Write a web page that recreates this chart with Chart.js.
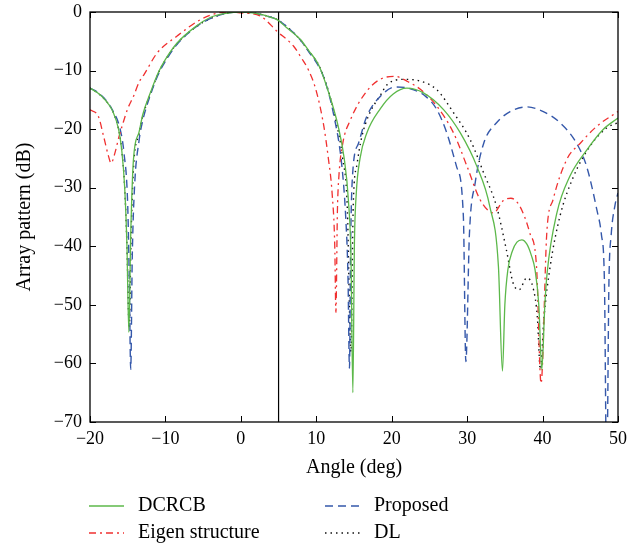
<!DOCTYPE html>
<html>
<head>
<meta charset="utf-8">
<script src="https://cdn.jsdelivr.net/npm/chart.js@4.4.0/dist/chart.umd.min.js"></script>
<style>
  html, body { margin: 0; padding: 0; background: #fff; }
  #wrap { width: 643px; height: 546px; }
</style>
</head>
<body>
<div id="wrap"><canvas id="pattern"></canvas></div>
<script>
// angles (deg) and array pattern (dB)
var dcrcbAngle = [-20, -19, -18, -17, -16.2, -15.8, -15.4, -15.1, -14.85, -14.6, -14.24, -13.5, -13, -12, -11, -10, -8.45, -6, -4, -2, 0, 2, 4, 4.8, 6, 7.9, 9, 10.3, 11.5, 12.9, 13.7, 14.25, 14.6, 14.85, 15.05, 15.3, 15.8, 16.7, 18.5, 20.2, 22, 24.2, 26.9, 29.1, 31.3, 33, 34.15, 34.68, 35, 35.4, 36, 36.6, 37.25, 37.9, 38.5, 39, 39.5, 39.9, 40.3, 40.6, 41.9, 43.6, 45.9, 48, 50];
var dcrcbDb = [-13, -13.8, -15, -16.9, -20.1, -23.5, -30, -40, -54.7, -38, -25.2, -20.5, -17.5, -13.8, -10.5, -8.1, -5.3, -2.5, -0.9, -0.25, 0, -0.25, -0.9, -1.3, -2.6, -4.7, -6.6, -9, -13.2, -19.5, -25, -32, -42, -65, -40, -31, -25, -20.65, -16.5, -14, -13, -13.8, -16.7, -20.65, -26.4, -33.2, -43.5, -61.3, -50, -44, -40.8, -39.3, -38.9, -39.6, -41.5, -44, -50, -61.1, -50, -44.6, -34.3, -28.1, -23.5, -20.1, -18.1];

var eigenAngle = [-20, -18.9, -18.2, -17.55, -17.2, -16.7, -16.2, -15.7, -15, -14.2, -13.5, -12.8, -11.1, -8.45, -5.36, -3.15, -1.5, 0, 2.58, 4.8, 7, 8, 9, 10, 11, 11.6, 12.1, 12.45, 12.6, 12.8, 13, 13.5, 14.5, 16.7, 18.9, 20.5, 22, 23.8, 26, 28.2, 30, 31.7, 33.5, 34.8, 35.8, 37, 38.3, 39.2, 39.8, 40.56, 41.4, 43.2, 45, 47.2, 50];
var eigenDb = [-16.7, -17.8, -21.2, -24.6, -25.8, -24.1, -21.5, -19.3, -16.5, -14.3, -12, -10.6, -7, -4.1, -1.3, -0.2, 0, -0.15, -0.7, -3.3, -5.85, -7.8, -10, -13.5, -19.5, -25, -31, -40, -51.3, -34, -28, -22.5, -18.5, -13.5, -11.25, -11, -11.8, -13.2, -16.1, -20.65, -26.4, -32, -34.3, -32.2, -31.8, -33.2, -37.7, -43.5, -63.4, -37.7, -32, -25.2, -22.4, -19.5, -17];

var proposedAngle = [-20, -19, -18, -17, -16, -15.5, -15, -14.8, -14.6, -14.4, -14.1, -13.5, -13, -12, -11, -10, -8.45, -6, -4, -2, 0, 2, 4, 4.8, 6, 7.9, 9, 10, 11, 12.3, 13.4, 13.9, 14.2, 14.4, 14.55, 14.8, 15.6, 16.7, 18.5, 20.5, 22.2, 24.5, 26, 27.3, 28.6, 29.5, 29.83, 30.3, 31.06, 32.2, 33.9, 35.7, 37.9, 40.1, 42.3, 44.5, 45.85, 47.2, 47.8, 48.2, 48.5, 48.8, 49.1, 49.6, 50];
var proposedDb = [-13, -13.7, -14.9, -16.8, -20, -24, -33, -45, -61, -42, -30, -22, -18.5, -14.2, -10.8, -8.4, -5.5, -2.6, -1.1, -0.25, 0, -0.25, -0.9, -1.3, -2.4, -4.8, -6.8, -8.6, -11.2, -17.5, -26.4, -35, -45, -60.8, -40, -28, -22.4, -17.8, -14.4, -12.8, -13, -14.4, -16.7, -20.65, -26.4, -34.9, -59.7, -38, -29.2, -22.4, -18.9, -17, -16.2, -17, -18.9, -22.4, -26.4, -33.8, -38, -46, -80, -46, -38, -33, -30.9];

var dlAngle = [-20, -19, -18, -17, -16.2, -15.8, -15.4, -15.1, -14.8, -14.55, -14.2, -13.5, -13, -12, -11, -10, -8.45, -6, -4, -2, 0, 2, 4, 4.8, 6, 7.9, 9, 10.3, 11.5, 12.5, 13.5, 14.1, 14.6, 14.9, 15.4, 16, 17, 18.5, 19.4, 21.6, 23.8, 26, 28.2, 30.4, 32.2, 33.9, 35.2, 36.1, 36.9, 37.9, 38.8, 39.3, 39.7, 40.2, 41, 42.3, 44.1, 46.3, 48.5, 50];
var dlDb = [-13, -13.8, -15, -16.9, -20.1, -23.5, -30, -40, -54, -38, -26, -20.8, -17.8, -14, -10.6, -8.2, -5.4, -2.6, -1.1, -0.25, 0, -0.25, -0.9, -1.3, -2.4, -4.8, -6.7, -9, -13, -18, -25, -33, -58, -33, -26, -21.5, -17.5, -14.2, -12.4, -11.5, -11.8, -13.3, -17.2, -21.8, -27.5, -33.2, -40.6, -46.3, -47.4, -45.4, -47.4, -52, -61, -52, -43.5, -34.9, -28.1, -22.9, -19.8, -18.9];

// look direction marker
var markerAngle = [5, 5];
var markerDb = [0, -70];

var xTicks = { min: -20, max: 50, step: 10 };
var yTicks = { min: -70, max: 0, step: 10 };

function pts(xs, ys) {
    return xs.map(function (v, i) { return { x: v, y: ys[i] }; });
}

function minus(v) {
    return String(v).replace('-', '\u2212');
}

var serif = "'Liberation Serif', 'DejaVu Serif', serif";

// box around plot, inward ticks, two-column legend
var framePlugin = {
    id: 'frame',
    afterDraw: function (chart) {
        var ctx = chart.ctx, a = chart.chartArea;
        var x = chart.scales.x, y = chart.scales.y;
        ctx.save();
        ctx.strokeStyle = '#000';
        ctx.lineWidth = 1.3;
        ctx.strokeRect(a.left, a.top, a.right - a.left, a.bottom - a.top);
        ctx.lineWidth = 1;
        ctx.beginPath();
        x.ticks.forEach(function (t) {
            var px = Math.round(x.getPixelForValue(t.value)) + 0.5;
            ctx.moveTo(px, a.bottom); ctx.lineTo(px, a.bottom - 6);
            ctx.moveTo(px, a.top); ctx.lineTo(px, a.top + 6);
        });
        y.ticks.forEach(function (t) {
            var py = Math.round(y.getPixelForValue(t.value)) + 0.5;
            ctx.moveTo(a.left, py); ctx.lineTo(a.left + 6, py);
            ctx.moveTo(a.right, py); ctx.lineTo(a.right - 6, py);
        });
        ctx.stroke();

        var cols = [89, 325], rows = [506, 533];
        var n = 0;
        ctx.font = '20px ' + serif;
        ctx.textBaseline = 'middle';
        ctx.fillStyle = '#000';
        chart.data.datasets.forEach(function (ds) {
            if (!ds.label) return;
            var lx = cols[Math.floor(n / 2)], ly = rows[n % 2];
            n++;
            ctx.save();
            ctx.strokeStyle = ds.borderColor;
            ctx.lineWidth = ds.borderWidth;
            ctx.setLineDash(ds.borderDash || []);
            ctx.beginPath();
            ctx.moveTo(lx, ly); ctx.lineTo(lx + 35, ly);
            ctx.stroke();
            ctx.restore();
            ctx.fillText(ds.label, lx + 49, ly);
        });
        ctx.restore();
    }
};

var ctx = document.getElementById('pattern').getContext('2d');
var myChart = new Chart(ctx, {
    type: 'line',
    data: {
        datasets: [{
            label: 'DCRCB',
            data: pts(dcrcbAngle, dcrcbDb),
            borderColor: '#5cb84a',
            borderWidth: 1.3
        }, {
            label: 'Eigen structure',
            data: pts(eigenAngle, eigenDb),
            borderColor: '#f03030',
            borderWidth: 1.3,
            borderDash: [7, 4, 2, 4]
        }, {
            label: 'Proposed',
            data: pts(proposedAngle, proposedDb),
            borderColor: '#3558aa',
            borderWidth: 1.4,
            borderDash: [8, 5]
        }, {
            label: 'DL',
            data: pts(dlAngle, dlDb),
            borderColor: '#111',
            borderWidth: 1.4,
            borderDash: [1.5, 4]
        }, {
            data: pts(markerAngle, markerDb),
            borderColor: '#000',
            borderWidth: 1.2
        }]
    },
    options: {
        responsive: true,
        maintainAspectRatio: false,
        animation: false,
        cubicInterpolationMode: 'monotone',
        elements: { point: { radius: 0, hoverRadius: 0 } },
        layout: { padding: { left: 0, right: 25, top: 12, bottom: 66 } },
        plugins: { legend: { display: false }, tooltip: { enabled: false } },
        scales: {
            x: {
                type: 'linear',
                min: xTicks.min, max: xTicks.max,
                grid: { display: false, drawTicks: false },
                border: { display: false },
                ticks: {
                    stepSize: xTicks.step, padding: 6, color: '#000',
                    font: { family: serif, size: 18 },
                    maxRotation: 0,
                    callback: function (v) { return minus(v); }
                },
                title: {
                    display: true, text: 'Angle (deg)', color: '#000',
                    font: { family: serif, size: 20 },
                    padding: { top: 0, bottom: 0 }
                },
                afterFit: function (s) { s.height = 58; s.paddingLeft = 0; s.paddingRight = 0; }
            },
            y: {
                min: yTicks.min, max: yTicks.max,
                grid: { display: false, drawTicks: false },
                border: { display: false },
                ticks: {
                    stepSize: yTicks.step, padding: 8, color: '#000',
                    font: { family: serif, size: 18 },
                    callback: function (v) { return minus(v); }
                },
                title: {
                    display: true, text: 'Array pattern (dB)', color: '#000',
                    font: { family: serif, size: 20 },
                    padding: { top: 13, bottom: 0 }
                },
                afterFit: function (s) { s.width = 90; s.paddingTop = 0; s.paddingBottom = 0; }
            }
        }
    },
    plugins: [framePlugin]
});
</script>
</body>
</html>
